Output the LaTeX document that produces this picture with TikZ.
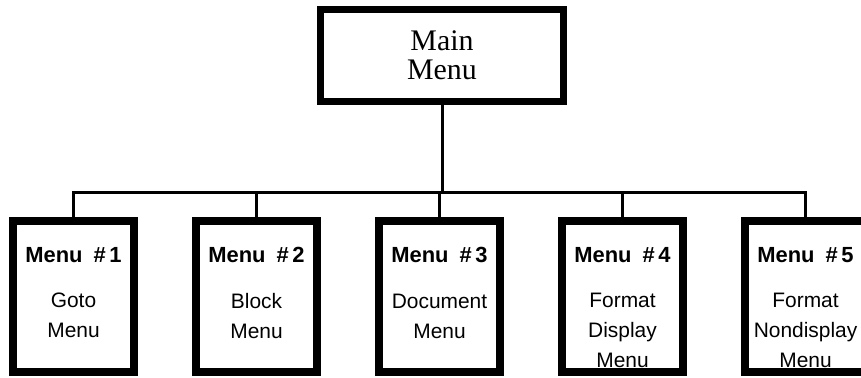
\documentclass[tikz,border=0pt]{standalone}
\usepackage{fontspec}
\setmainfont{Liberation Serif}
\newfontfamily\menufont{Liberation Sans}
\newcommand\menutitle[1]{{\bfseries\fontsize{22}{30}\selectfont Menu\enspace\#\,#1}}
\usetikzlibrary{positioning}
\begin{document}
\begin{tikzpicture}[x=1bp,y=-1bp,node distance=62bp,outer sep=0pt,
		mainb/.style={
		  draw,
		  line width=7.5bp,
		  minimum width=243bp,
		  minimum height=92bp,
		  align=center,
		  font={\fontsize{30}{29}\selectfont}},
		menub/.style={
		  draw,
		  line width=8bp,
		  minimum width=121bp,
		  minimum height=151bp},
		menutext/.style={
		  anchor=north,
		  yshift=-26bp,
		  inner sep=0pt,
		  align=center,
		  font={\menufont\fontsize{21}{30}\selectfont}},
		wire/.style={line width=3bp},
		]
		\useasboundingbox (0,0) rectangle (861,377);
		\clip (0,0) rectangle (861,377);
		\node[mainb] (Main) at (442,55.5) {Main\\Menu};
		\node[menub,label={[menutext]north:{\menutitle{1}\\[16bp]Goto\\Menu}}] (Goto) at (73.5,296.5) {};
		\node[menub,right=of Goto,label={[menutext]north:{\menutitle{2}\\[16bp]Block\\Menu}}] (Blo) {};
		\node[menub,right=of Blo,label={[menutext]north:{\menutitle{3}\\[16bp]Document\\Menu}}] (Doc) {};
		\node[menub,right=of Doc,label={[menutext]north:{\menutitle{4}\\[16bp]Format\\Display\\Menu}}] (FDi) {};
		\node[menub,right=of FDi,label={[menutext]north:{\menutitle{5}\\[16bp]Format\\Nondisplay\\Menu}}] (FNd) {};
		\coordinate (bus) at (442,192.5);
		\draw[wire] (Main.south) -- (bus);
		\draw[wire] (Goto.north) |- (FNd.north |- bus) -- (FNd.north);
		\draw[wire] (Blo.north) -- (Blo.north |- bus);
		\draw[wire] (Doc.north) -- (Doc.north |- bus);
		\draw[wire] (FDi.north) -- (FDi.north |- bus);
		\end{tikzpicture}
\end{document}
